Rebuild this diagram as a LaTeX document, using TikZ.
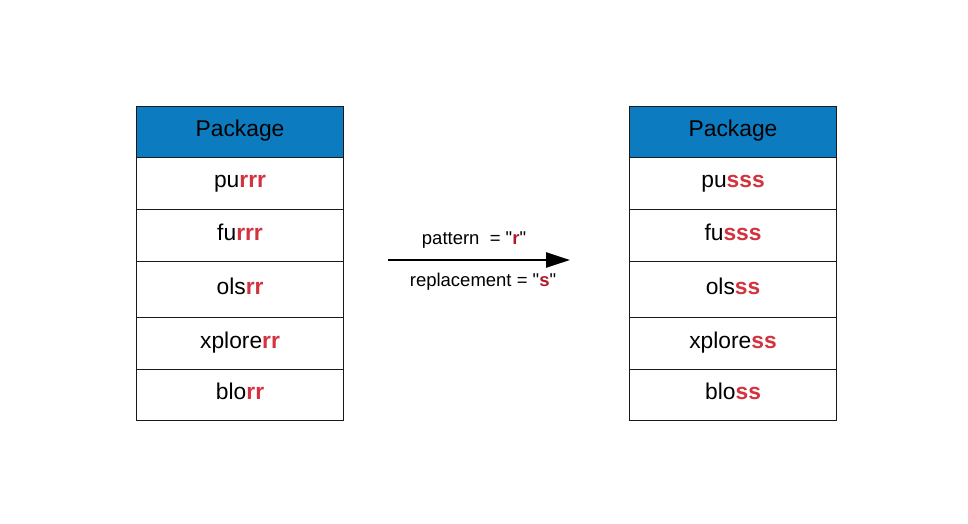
\documentclass[tikz,border=0pt]{standalone}
\usepackage{fontspec}
\setmainfont{Liberation Sans}[Ligatures=TeXOff]
\usetikzlibrary{arrows.meta}
\definecolor{hdr}{HTML}{0D7BBF}
\definecolor{rd}{HTML}{D3323F}
\definecolor{rdk}{HTML}{B01A2C}
\newcommand{\sq}{\symbol{34}}
\begin{document}
\begin{tikzpicture}[x=1pt,y=-1pt,
  cell/.style={draw=black!90, line width=1.1pt, minimum width=207pt, inner sep=0pt, anchor=north west,
    font=\fontsize{22.8}{25}\selectfont, text=black},
  head/.style={cell, fill=hdr},
  lbl/.style={font=\fontsize{18.5}{21}\selectfont, text=black}]
\useasboundingbox (0,0) rectangle (968,523);
% left table
\node[head, minimum height=51pt] (lh) at (136,106) {\raisebox{8pt}{Package}};
\node[cell, minimum height=52pt] (l1) at (136,157) {\raisebox{3pt}{pu\textcolor{rd}{\textbf{rrr}}}};
\node[cell, minimum height=52pt] (l2) at (136,209) {\raisebox{7pt}{fu\textcolor{rd}{\textbf{rrr}}}};
\node[cell, minimum height=56pt] (l3) at (136,261) {\raisebox{7pt}{ols\textcolor{rd}{\textbf{rr}}}};
\node[cell, minimum height=52pt] (l4) at (136,317) {\raisebox{7pt}{xplore\textcolor{rd}{\textbf{rr}}}};
\node[cell, minimum height=51pt] (l5) at (136,369) {\raisebox{7pt}{blo\textcolor{rd}{\textbf{rr}}}};
% right table
\node[head, minimum height=51pt] (rh) at (629,106) {\raisebox{8pt}{Package}};
\node[cell, minimum height=52pt] (r1) at (629,157) {\raisebox{3pt}{pu\textcolor{rd}{\textbf{sss}}}};
\node[cell, minimum height=52pt] (r2) at (629,209) {\raisebox{7pt}{fu\textcolor{rd}{\textbf{sss}}}};
\node[cell, minimum height=56pt] (r3) at (629,261) {\raisebox{7pt}{ols\textcolor{rd}{\textbf{ss}}}};
\node[cell, minimum height=52pt] (r4) at (629,317) {\raisebox{7pt}{xplore\textcolor{rd}{\textbf{ss}}}};
\node[cell, minimum height=51pt] (r5) at (629,369) {\raisebox{7pt}{blo\textcolor{rd}{\textbf{ss}}}};
% arrow
\coordinate (a1) at (388,260);
\coordinate (a2) at (570,260);
\draw[line width=2.4pt, -{Triangle[length=24pt,width=15pt]}] (a1) -- (a2);
\node[lbl] (pat) at (474,240) {pattern\ \ = \sq\textcolor{rdk}{\textbf{r}}\sq};
\node[lbl] (rep) at (483,282) {replacement = \sq\textcolor{rdk}{\textbf{s}}\sq};
\end{tikzpicture}
\end{document}
